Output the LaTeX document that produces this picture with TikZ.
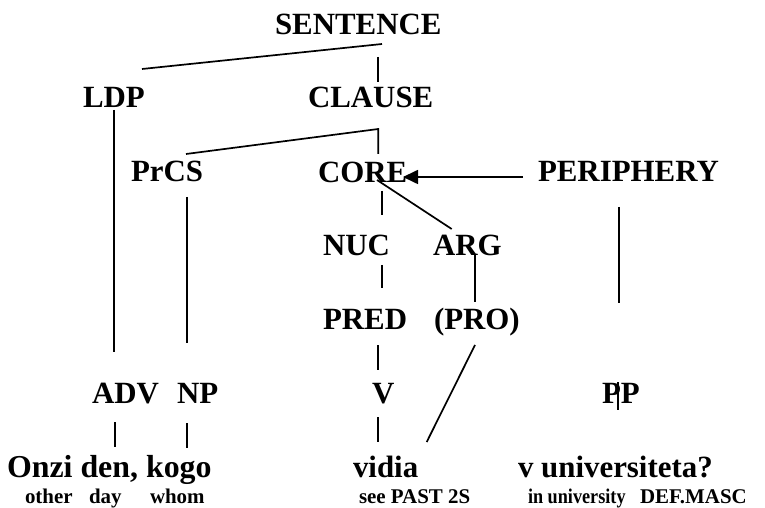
\documentclass[tikz,border=0pt]{standalone}
\usepackage{fontspec}
\setmainfont{Liberation Serif}
\usetikzlibrary{arrows.meta}
\begin{document}
\begin{tikzpicture}[x=1bp,y=-1bp,
  lbl/.style={anchor=base west,inner sep=0pt,outer sep=0pt,font=\bfseries\fontsize{31}{31}\selectfont},
  gloss/.style={anchor=base west,inner sep=0pt,outer sep=0pt,font=\bfseries\fontsize{21}{21}\selectfont},
  branch/.style={line width=1.7bp,line cap=butt},
  headarrow/.style={branch,-{Triangle[length=15bp,width=14bp]}}]
\useasboundingbox (0,0) rectangle (765,508);

% category labels
\node[lbl] (sentence) at (275,35) {SENTENCE};
\node[lbl] (ldp) at (83,108) {LDP};
\node[lbl] (clause) at (308,108) {CLAUSE};
\node[lbl] (prcs) at (131,182) {PrCS};
\node[lbl] (core) at (318,183) {CORE};
\node[lbl] (periphery) at (538,182) {PERIPHERY};
\node[lbl] (nuc) at (323,256) {NUC};
\node[lbl] (arg) at (433,256) {ARG};
\node[lbl] (pred) at (323,329) {PRED};
\node[lbl] (pro) at (434,329) {(PRO)};
\node[lbl] (adv) at (92,403) {ADV};
\node[lbl] (np) at (177,403) {NP};
\node[lbl] (v) at (372,403) {V};
\node[lbl] (pp) at (602,403) {PP};

% words
\node[lbl] (w1) at (7,477) {\fontsize{32}{32}\selectfont Onzi den, kogo};
\node[lbl] (w2) at (353,477) {vidia};
\node[lbl] (w3) at (518,477) {v universiteta?};

% glosses
\node[gloss] (g1) at (25,503) {other};
\node[gloss] (g2) at (89,503) {day};
\node[gloss] (g3) at (150,503) {whom};
\node[gloss] (g4) at (359,503) {see PAST 2S};
\node[gloss] (g5) at (528,503) {\scalebox{0.87}[1]{in university}};
\node[gloss] (g6) at (640,503) {DEF.MASC};

% branch end points
\coordinate (s-l) at (142,69);
\coordinate (s-r) at (382,44);
\coordinate (s-c1) at (378,57);
\coordinate (s-c2) at (378,82);
\coordinate (ldp-a) at (114.3,110);
\coordinate (ldp-b) at (114.3,352);
\coordinate (cl-l) at (186,154);
\coordinate (cl-t) at (378.3,129);
\coordinate (cl-b) at (378.3,154);
\coordinate (prcs-a) at (186.7,197);
\coordinate (prcs-b) at (186.7,343);
\coordinate (per-a) at (523,177);
\coordinate (core-tip) at (403,177);
\coordinate (core-n1) at (381.7,191);
\coordinate (core-n2) at (381.7,215);
\coordinate (core-a1) at (377,180);
\coordinate (core-a2) at (451.7,229);
\coordinate (nuc-p1) at (381.7,265);
\coordinate (nuc-p2) at (381.7,288);
\coordinate (arg-p1) at (475,255);
\coordinate (arg-p2) at (475,302);
\coordinate (pred-v1) at (378.3,345);
\coordinate (pred-v2) at (378.3,370);
\coordinate (pro-w1) at (475,345);
\coordinate (pro-w2) at (426.7,442);
\coordinate (v-w1) at (378.3,417);
\coordinate (v-w2) at (378.3,442);
\coordinate (per-p1) at (619,207);
\coordinate (per-p2) at (619,303);
\coordinate (pp-1) at (618.3,382);
\coordinate (pp-2) at (618.3,410);
\coordinate (adv-w1) at (115,422);
\coordinate (adv-w2) at (115,447);
\coordinate (np-w1) at (186.7,423);
\coordinate (np-w2) at (186.7,448);

% branches
\draw[branch] (s-l) -- (s-r);
\draw[branch] (s-c1) -- (s-c2);
\draw[branch] (ldp-a) -- (ldp-b);
\draw[branch] (cl-l) -- (cl-t) -- (cl-b);
\draw[branch] (prcs-a) -- (prcs-b);
\draw[headarrow] (per-a) -- (core-tip);
\draw[branch] (core-n1) -- (core-n2);
\draw[branch] (core-a1) -- (core-a2);
\draw[branch] (nuc-p1) -- (nuc-p2);
\draw[branch] (arg-p1) -- (arg-p2);
\draw[branch] (pred-v1) -- (pred-v2);
\draw[branch] (pro-w1) -- (pro-w2);
\draw[branch] (v-w1) -- (v-w2);
\draw[branch] (per-p1) -- (per-p2);
\draw[branch] (pp-1) -- (pp-2);
\draw[branch] (adv-w1) -- (adv-w2);
\draw[branch] (np-w1) -- (np-w2);
\end{tikzpicture}
\end{document}
